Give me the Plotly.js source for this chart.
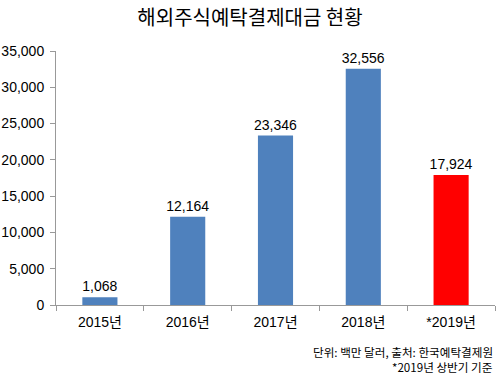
<!DOCTYPE html>
<html><head><meta charset="utf-8">
<script src="https://cdn.plot.ly/plotly-3.0.1.min.js"></script>
<style>html,body{margin:0;padding:0;background:#fff}#chart{width:500px;height:378px}</style>
</head><body><div id="chart"></div>
<script>
const categories = ['2015년', '2016년', '2017년', '2018년', '*2019년'];
const values = [1068, 12164, 23346, 32556, 17924];
const colors = ['#4F81BD', '#4F81BD', '#4F81BD', '#4F81BD', '#FF0000'];
const yTicks = [0, 5000, 10000, 15000, 20000, 25000, 30000, 35000];
const FONT = "'Liberation Sans', 'Noto Sans CJK KR', sans-serif";

const trace = {
  type: 'bar', x: categories, y: values,
  marker: {color: colors},
  width: 0.4,
  text: values.map(v => v.toLocaleString('en-US')),
  textposition: 'outside', cliponaxis: false, constraintext: 'none',
  textfont: {family: FONT, size: 14, color: '#000'},
  hoverinfo: 'none'
};
const layout = {
  width: 500, height: 378,
  margin: {l: 56, r: 5, t: 51, b: 73},
  paper_bgcolor: '#fff', plot_bgcolor: '#fff',
  showlegend: false,
  title: {text: '해외주식예탁결제대금 현황', font: {family: "'Noto Sans CJK KR', sans-serif", size: 20, color: '#000'}, x: 0.5, xanchor: 'center', y: 0.952, yanchor: 'middle'},
  xaxis: {type: 'category', tickson: 'boundaries', ticks: 'outside', ticklen: 5, tickcolor: '#999',
          showline: true, linecolor: '#999', linewidth: 1, showgrid: false, ticklabelstandoff: 4,
          tickfont: {family: FONT, size: 14, color: '#000'}},
  yaxis: {range: [0, 35000], tickvals: yTicks, ticktext: yTicks.map(v => v.toLocaleString('en-US')),
          ticks: 'outside', ticklen: 5, tickcolor: '#999', showline: true, linecolor: '#999', linewidth: 1,
          showgrid: false, zeroline: false, ticklabelstandoff: 3,
          tickfont: {family: FONT, size: 14, color: '#000'}},
  annotations: [
    {text: '단위: 백만 달러, 출처: 한국예탁결제원', xref: 'paper', yref: 'paper', x: 1.0, y: -0.185, xanchor: 'right', yanchor: 'middle', showarrow: false,
     font: {family: "'Noto Sans CJK KR', sans-serif", size: 11.6, color: '#000'}},
    {text: '*2019년 상반기 기준', xref: 'paper', yref: 'paper', x: 1.0, y: -0.245, xanchor: 'right', yanchor: 'middle', showarrow: false,
     font: {family: "'Noto Sans CJK KR', sans-serif", size: 11.6, color: '#000'}}
  ]
};
Plotly.newPlot('chart', [trace], layout, {displayModeBar: false, staticPlot: true});
</script></body></html>
